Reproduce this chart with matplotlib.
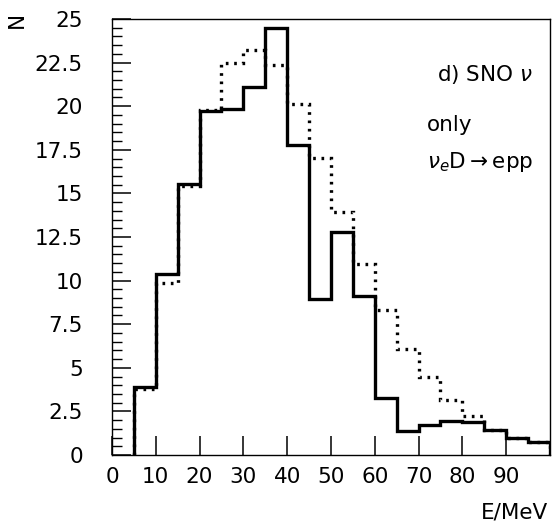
"""plot.py: SNO neutrino energy spectrum, two histograms"""
import matplotlib
matplotlib.use("Agg")
import matplotlib.pyplot as plt
import numpy as np
from matplotlib.ticker import MultipleLocator

FIG_SIZE = (5.56, 5.29)
DPI = 100
FONT_SIZE = 15.5

# bin edges (MeV) and histogram contents
edges = np.arange(5, 105, 5)
solid = [3.9, 10.35, 15.55, 19.75, 19.85, 21.1, 24.5, 17.75, 8.95, 12.8,
         9.1, 3.25, 1.35, 1.7, 1.95, 1.9, 1.45, 1.0, 0.75]
dotted = [3.8, 9.85, 15.4, 19.8, 22.45, 23.25, 22.35, 20.1, 17.05, 13.95,
          10.95, 8.3, 6.1, 4.5, 3.15, 2.25, 1.45, 1.0, 0.75]

x_ticks = [0, 10, 20, 30, 40, 50, 60, 70, 80, 90]
y_ticks = [0, 2.5, 5, 7.5, 10, 12.5, 15, 17.5, 20, 22.5, 25]
y_labels = ["0", "2.5", "5", "7.5", "10", "12.5", "15", "17.5", "20", "22.5", "25"]

plt.rcParams["font.family"] = ["DejaVu Sans"]
plt.rcParams["mathtext.fontset"] = "dejavusans"

fig = plt.figure(figsize=FIG_SIZE, dpi=DPI)
ax = fig.add_axes([0.2014, 0.1399, 0.7876, 0.8242])

ax.stairs(dotted, edges, baseline=0, color="black", linewidth=2.4,
          linestyle=(0, (0.8, 1.7)))
ax.stairs(solid, edges, baseline=0, color="black", linewidth=2.4)

ax.set_xlim(0, 100)
ax.set_ylim(0, 25)

for side in ["top", "right", "left", "bottom"]:
    ax.spines[side].set_linewidth(1.0)

ax.set_xticks(x_ticks)
ax.set_xticklabels([str(t) for t in x_ticks])
ax.set_yticks(y_ticks)
ax.set_yticklabels(y_labels)
ax.yaxis.set_minor_locator(MultipleLocator(0.5))

ax.tick_params(axis="both", which="major", direction="in", length=13.5,
               width=1.1, labelsize=FONT_SIZE)
ax.tick_params(axis="x", which="major", pad=9)
ax.tick_params(axis="y", which="major", pad=21)
ax.tick_params(axis="y", which="minor", direction="in", length=7, width=1.0)
ax.tick_params(top=False, right=False, which="both")

# axis labels placed at the corners
fig.text(17 / 556, 1 - 20 / 529, "N", rotation=90, fontsize=FONT_SIZE,
         ha="center", va="center")
fig.text(548 / 556, 1 - 513 / 529, "E/MeV", fontsize=FONT_SIZE,
         ha="right", va="center")

ax.text(0.96, 0.872, r"d) SNO $\nu$", transform=ax.transAxes,
        fontsize=FONT_SIZE, ha="right", va="center")
ax.text(0.72, 0.757, "only", transform=ax.transAxes, fontsize=FONT_SIZE,
        ha="left", va="center")
ax.text(0.72, 0.672, r"$\nu_e$D$\rightarrow$epp", transform=ax.transAxes,
        fontsize=FONT_SIZE, ha="left", va="center")

plt.savefig("out.png", dpi=DPI)
